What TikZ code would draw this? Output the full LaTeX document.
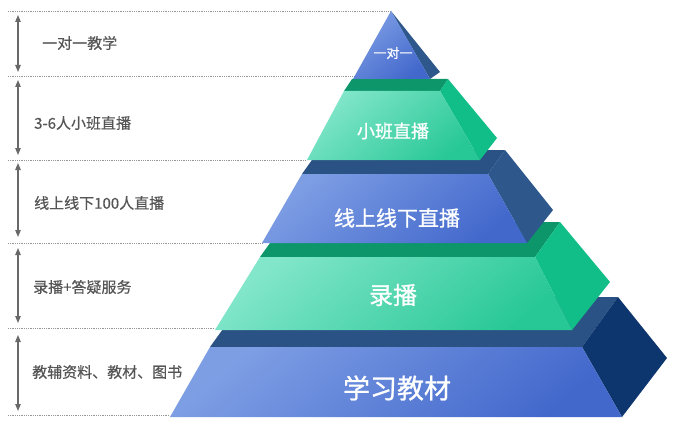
\documentclass[tikz,border=0pt]{standalone}
\usepackage{fontspec}
\setmainfont{Noto Sans CJK SC}
\newfontfamily\cjklbl[FakeBold=0.4]{Noto Sans CJK SC}
\newfontfamily\cjkface[FakeBold=0.9]{Noto Sans CJK SC}
\usetikzlibrary{arrows.meta, calc}
\definecolor{lvlblue}{RGB}{126,158,228}
\definecolor{lvlbluedk}{RGB}{66,104,204}
\definecolor{sideblue}{RGB}{46,88,140}
\definecolor{sidenavy}{RGB}{14,54,110}
\definecolor{topblue}{RGB}{42,82,132}
\definecolor{lvlgreen}{RGB}{130,230,202}
\definecolor{lvlgreendk}{RGB}{40,200,150}
\definecolor{sidegreen}{RGB}{18,190,135}
\definecolor{topgreen}{RGB}{12,150,106}
\definecolor{guidegray}{RGB}{150,150,150}
\definecolor{labelgray}{RGB}{85,85,85}
\definecolor{spangray}{RGB}{105,105,105}

\begin{document}
\begin{tikzpicture}[x=1pt, y=-1pt,
    guide/.style={guidegray, densely dotted, line width=0.8pt},
    span/.style={{Triangle[length=7pt,width=5.5pt]}-{Triangle[length=7pt,width=5.5pt]}, spangray, line width=1.1pt},
    lbl/.style={anchor=west, text=labelgray, inner sep=0pt, font=\cjklbl\fontsize{15}{17}\selectfont},
    facetxt/.style={text=white, inner sep=0pt, font=\cjkface\fontsize{#1}{#1}\selectfont},
    bluefront/.style={top color=lvlblue, bottom color=lvlbluedk, shading angle=40},
    greenfront/.style={top color=lvlgreen, bottom color=lvlgreendk, shading angle=40}
]
\fill[white] (0,0) rectangle (674,425);
\useasboundingbox (0,0) rectangle (674,425);

% dotted level lines and spans
\foreach \y/\xe [count=\i from 0] in {11/390, 76/355, 160/306, 243/263, 328/215, 415/170} {
    \coordinate (gl\i) at (8,\y);
    \coordinate (gr\i) at (\xe,\y);
    \draw[guide] (gl\i) -- (gr\i);
}
\foreach \ya/\yb [count=\i] in {15/72, 80/155, 163/237, 248/323, 335/411} {
    \coordinate (sa\i) at (18,\ya);
    \coordinate (sb\i) at (18,\yb);
    \draw[span] (sa\i) -- (sb\i);
}

\node[lbl] (t1) at (42,43) {一对一教学};
\node[lbl] (t2) at (34,123) {3-6人小班直播};
\node[lbl] (t3) at (34,203) {线上线下100人直播};
\node[lbl] (t4) at (33,287) {录播+答疑服务};
\node[lbl] (t5) at (32,372) {教辅资料、教材、图书};

% level 5
\fill[topblue] (210,347) -- (246,297) -- (618,297) -- (582,347) -- cycle;
\fill[sidenavy] (582,347) -- (618,297) -- (667,358) -- (622,417) -- cycle;
\shade[bluefront] (210,347) -- (582,347) -- (622,417) -- (170,417) -- cycle;
% level 4
\fill[topgreen] (260,257) -- (285,222) -- (560,222) -- (535,257) -- cycle;
\fill[sidegreen] (535,257) -- (560,222) -- (610,282) -- (572,330) -- cycle;
\shade[greenfront] (260,257) -- (535,257) -- (572,330) -- (215,330) -- cycle;
% level 3
\fill[topblue] (302,174) -- (319,150) -- (505,150) -- (488,174) -- cycle;
\fill[sideblue] (488,174) -- (505,150) -- (553,210) -- (527,243) -- cycle;
\shade[bluefront] (302,174) -- (488,174) -- (527,243) -- (262,243) -- cycle;
% level 2
\fill[topgreen] (344,91) -- (352,79) -- (448,79) -- (440,91) -- cycle;
\fill[sidegreen] (440,91) -- (448,79) -- (497,138) -- (480,160) -- cycle;
\shade[greenfront] (344,91) -- (440,91) -- (480,160) -- (307,160) -- cycle;
% level 1
\fill[sideblue] (391,11) -- (440,72) -- (430,79) -- cycle;
\shade[bluefront] (391,11) -- (430,79) -- (353,79) -- cycle;

\node[facetxt=13] (p1) at (393,53) {一对一};
\node[facetxt=18] (p2) at (393,131) {小班直播};
\node[facetxt=21] (p3) at (397,218) {线上线下直播};
\node[facetxt=24] (p4) at (393,295) {录播};
\node[facetxt=27] (p5) at (397,388) {学习教材};
\end{tikzpicture}
\end{document}
